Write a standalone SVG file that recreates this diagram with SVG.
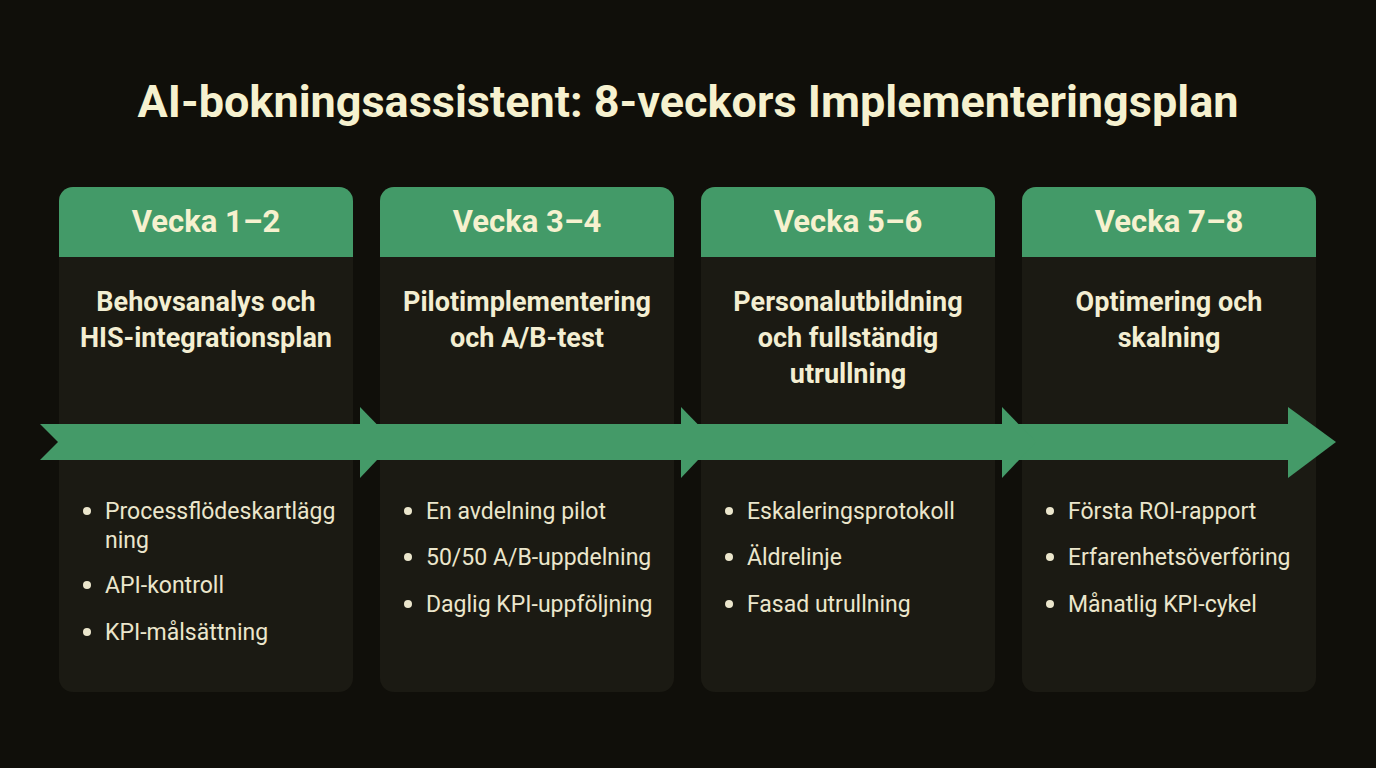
<svg xmlns="http://www.w3.org/2000/svg" width="1376" height="768" viewBox="0 0 1376 768">
<style>
.card{fill:#1b1a13}
.hd{fill:#439a68}
.ht{font-family:Roboto,"Liberation Sans",sans-serif;font-weight:bold;font-size:31px;fill:#f6f1cf;text-anchor:middle}
.st{font-family:Roboto,"Liberation Sans",sans-serif;font-weight:bold;font-size:27px;fill:#f3eed2;text-anchor:middle}
.bt{font-family:Roboto,"Liberation Sans",sans-serif;font-size:23px;fill:#ebe6cc}
.dot{fill:#ebe6cc}
.ar{fill:#449a68}
</style>
<rect width="1376" height="768" fill="#100f0a"/>
<text x="688" y="117" font-family="Roboto,'Liberation Sans',sans-serif" font-weight="bold" font-size="45" fill="#f6f1cf" text-anchor="middle">AI-bokningsassistent: 8-veckors Implementeringsplan</text>
<defs>
<clipPath id="c1"><rect x="0" y="187" width="294" height="505" rx="14"/></clipPath>
</defs>
<g id="card1" transform="translate(59,0)">
<rect class="card" y="187" width="294" height="505" rx="14"/>
<rect class="hd" y="187" width="294" height="70" clip-path="url(#c1)"/>
<text class="ht" x="147" y="232">Vecka 1–2</text>
<text class="st" x="147" y="311">Behovsanalys och</text>
<text class="st" x="147" y="347">HIS-integrationsplan</text>
<circle class="dot" cx="28" cy="511" r="4"/><text class="bt" x="46" y="519">Processflödeskartlägg</text>
<text class="bt" x="46" y="548">ning</text>
<circle class="dot" cx="28" cy="585" r="4"/><text class="bt" x="46" y="593">API-kontroll</text>
<circle class="dot" cx="28" cy="632" r="4"/><text class="bt" x="46" y="640">KPI-målsättning</text>
</g>
<g id="card2" transform="translate(380,0)">
<rect class="card" y="187" width="294" height="505" rx="14"/>
<rect class="hd" y="187" width="294" height="70" clip-path="url(#c1)"/>
<text class="ht" x="147" y="232">Vecka 3–4</text>
<text class="st" x="147" y="311">Pilotimplementering</text>
<text class="st" x="147" y="347">och A/B-test</text>
<circle class="dot" cx="28" cy="511" r="4"/><text class="bt" x="46" y="519">En avdelning pilot</text>
<circle class="dot" cx="28" cy="557" r="4"/><text class="bt" x="46" y="565">50/50 A/B-uppdelning</text>
<circle class="dot" cx="28" cy="604" r="4"/><text class="bt" x="46" y="612">Daglig KPI-uppföljning</text>
</g>
<g id="card3" transform="translate(701,0)">
<rect class="card" y="187" width="294" height="505" rx="14"/>
<rect class="hd" y="187" width="294" height="70" clip-path="url(#c1)"/>
<text class="ht" x="147" y="232">Vecka 5–6</text>
<text class="st" x="147" y="311">Personalutbildning</text>
<text class="st" x="147" y="347">och fullständig</text>
<text class="st" x="147" y="383">utrullning</text>
<circle class="dot" cx="28" cy="511" r="4"/><text class="bt" x="46" y="519">Eskaleringsprotokoll</text>
<circle class="dot" cx="28" cy="557" r="4"/><text class="bt" x="46" y="565">Äldrelinje</text>
<circle class="dot" cx="28" cy="604" r="4"/><text class="bt" x="46" y="612">Fasad utrullning</text>
</g>
<g id="card4" transform="translate(1022,0)">
<rect class="card" y="187" width="294" height="505" rx="14"/>
<rect class="hd" y="187" width="294" height="70" clip-path="url(#c1)"/>
<text class="ht" x="147" y="232">Vecka 7–8</text>
<text class="st" x="147" y="311">Optimering och</text>
<text class="st" x="147" y="347">skalning</text>
<circle class="dot" cx="28" cy="511" r="4"/><text class="bt" x="46" y="519">Första ROI-rapport</text>
<circle class="dot" cx="28" cy="557" r="4"/><text class="bt" x="46" y="565">Erfarenhetsöverföring</text>
<circle class="dot" cx="28" cy="604" r="4"/><text class="bt" x="46" y="612">Månatlig KPI-cykel</text>
</g>
<g id="connectors">
<path class="ar" d="M40,424 L1290,424 L1290,460 L40,460 L58,442 Z"/>
<path class="ar" d="M360,407 L394,442 L360,478 Z"/>
<path class="ar" d="M681,407 L715,442 L681,478 Z"/>
<path class="ar" d="M1002,407 L1036,442 L1002,478 Z"/>
<path class="ar" d="M1288,407 L1336,442 L1288,478 Z"/>
</g>
</svg>
